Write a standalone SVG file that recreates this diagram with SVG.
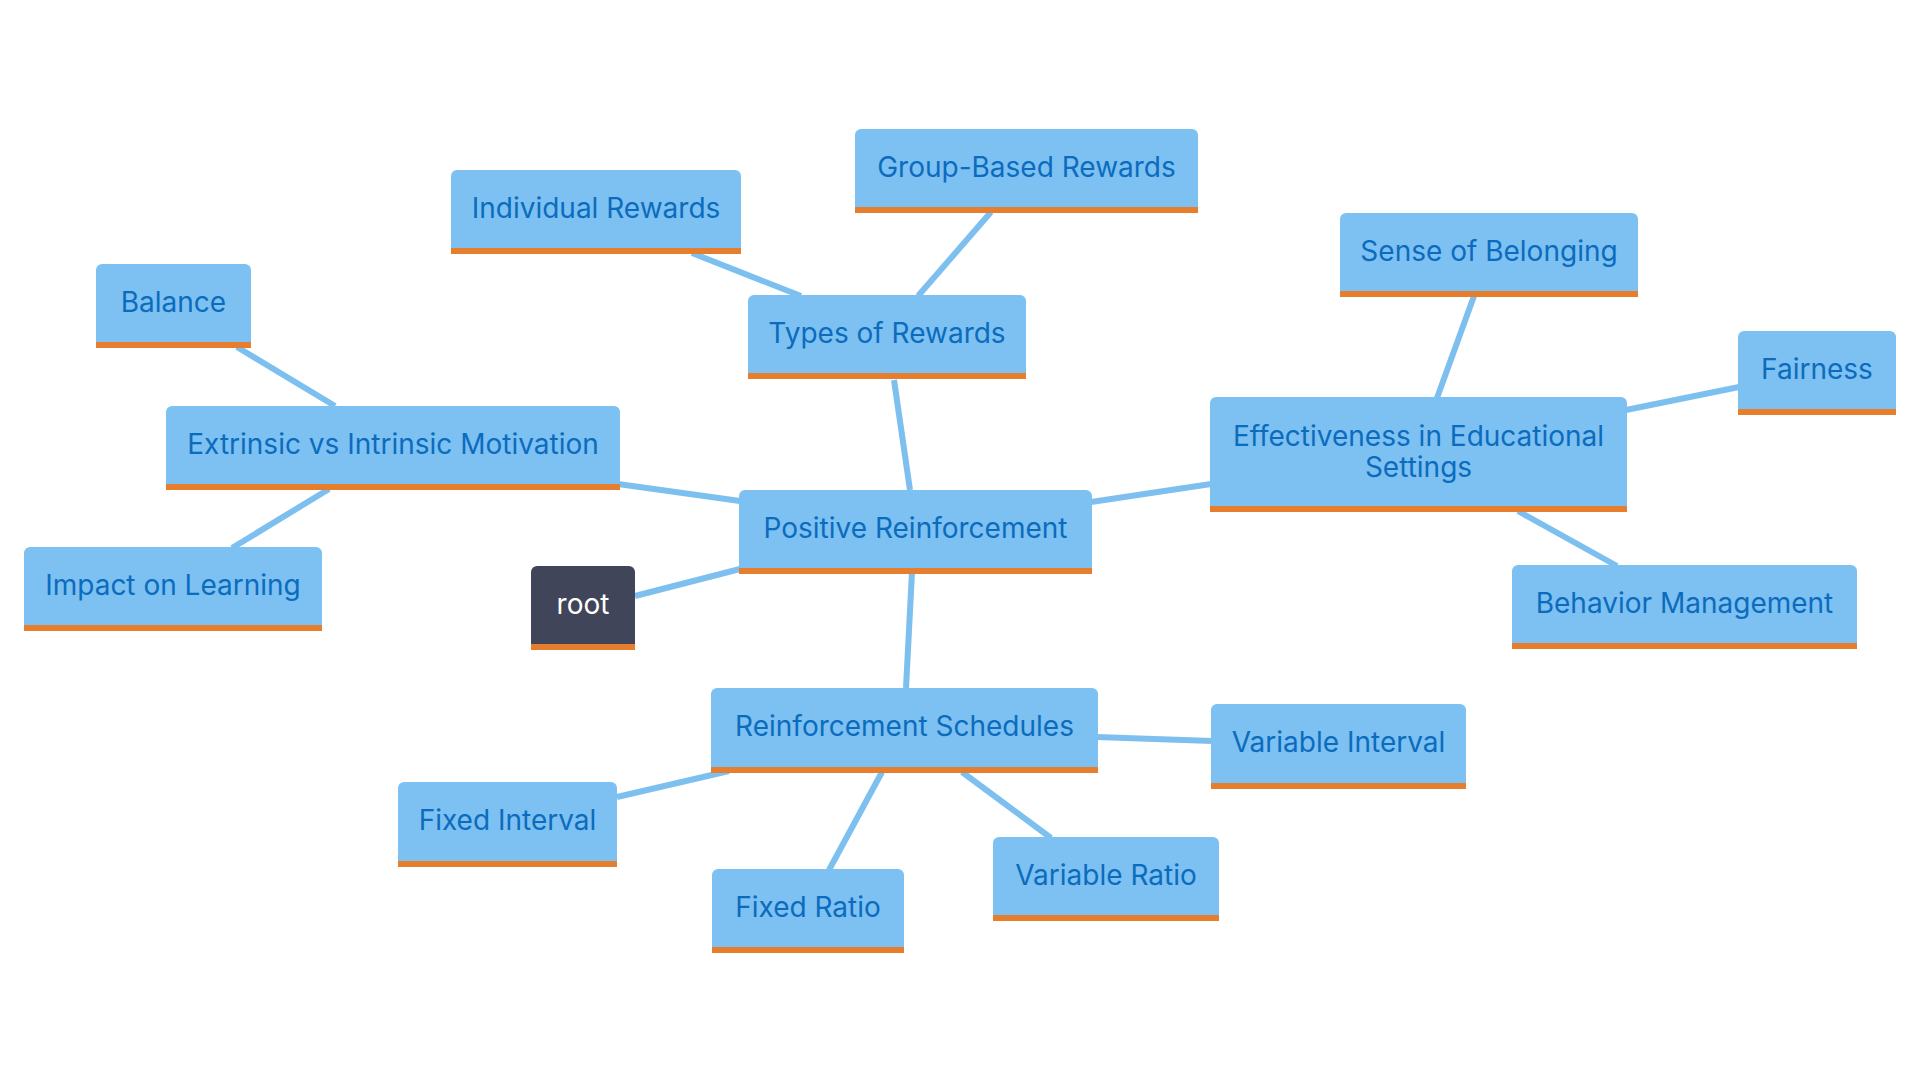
<svg xmlns="http://www.w3.org/2000/svg" width="1920" height="1080" viewBox="0 0 1920 1080">
<style>
.box{fill:#7dc0f2}
.rootbox{fill:#414559}
.bar{fill:#e67e2e}
.t{font-family:Inter,"Noto Sans","Liberation Sans",sans-serif;font-size:28px;fill:#0b6cbd;text-anchor:middle}
.rt{fill:#ffffff}
.edge{stroke:#7dc0f0;stroke-width:6;fill:none;stroke-linecap:butt}
</style>
<rect width="1920" height="1080" fill="#ffffff"/>
<g id="connectors">
<line class="edge" x1="635" y1="596" x2="740" y2="569"/>
<line class="edge" x1="618" y1="484" x2="740" y2="501"/>
<line class="edge" x1="910" y1="490" x2="894" y2="380"/>
<line class="edge" x1="1091" y1="502" x2="1211" y2="484"/>
<line class="edge" x1="912" y1="572" x2="906" y2="688"/>
<line class="edge" x1="801" y1="296" x2="692" y2="253"/>
<line class="edge" x1="918" y1="296" x2="991" y2="212"/>
<line class="edge" x1="335" y1="406" x2="237" y2="347"/>
<line class="edge" x1="329" y1="489" x2="232" y2="548"/>
<line class="edge" x1="1437" y1="398" x2="1474" y2="296"/>
<line class="edge" x1="1626" y1="410" x2="1739" y2="387"/>
<line class="edge" x1="1518" y1="511" x2="1617" y2="566"/>
<line class="edge" x1="1097" y1="737" x2="1212" y2="741"/>
<line class="edge" x1="729" y1="771" x2="617" y2="797"/>
<line class="edge" x1="882" y1="772" x2="829" y2="870"/>
<line class="edge" x1="962" y1="772" x2="1051" y2="838"/>
</g>
<g id="n-positive-reinforcement"><rect class="box" x="739" y="490" width="353" height="84" rx="6"/><rect class="bar" x="739" y="568" width="353" height="6"/><text class="t" x="915.5" y="538">Positive Reinforcement</text></g>
<g id="n-root"><rect class="rootbox" x="531" y="566" width="104" height="84" rx="6"/><rect class="bar" x="531" y="644" width="104" height="6"/><text class="t rt" x="583" y="614">root</text></g>
<g id="n-types"><rect class="box" x="748" y="295" width="278" height="84" rx="6"/><rect class="bar" x="748" y="373" width="278" height="6"/><text class="t" x="887" y="343">Types of Rewards</text></g>
<g id="n-individual"><rect class="box" x="451" y="170" width="290" height="84" rx="6"/><rect class="bar" x="451" y="248" width="290" height="6"/><text class="t" x="596" y="218">Individual Rewards</text></g>
<g id="n-group"><rect class="box" x="855" y="129" width="343" height="84" rx="6"/><rect class="bar" x="855" y="207" width="343" height="6"/><text class="t" x="1026.5" y="177">Group-Based Rewards</text></g>
<g id="n-extrinsic"><rect class="box" x="166" y="406" width="454" height="84" rx="6"/><rect class="bar" x="166" y="484" width="454" height="6"/><text class="t" x="393" y="454">Extrinsic vs Intrinsic Motivation</text></g>
<g id="n-balance"><rect class="box" x="96" y="264" width="155" height="84" rx="6"/><rect class="bar" x="96" y="342" width="155" height="6"/><text class="t" x="173.5" y="312">Balance</text></g>
<g id="n-impact"><rect class="box" x="24" y="547" width="298" height="84" rx="6"/><rect class="bar" x="24" y="625" width="298" height="6"/><text class="t" x="173" y="595">Impact on Learning</text></g>
<g id="n-effectiveness"><rect class="box" x="1210" y="397" width="417" height="115" rx="6"/><rect class="bar" x="1210" y="506" width="417" height="6"/><text class="t" x="1418.5" y="446">Effectiveness in Educational</text><text class="t" x="1418.5" y="477">Settings</text></g>
<g id="n-sense"><rect class="box" x="1340" y="213" width="298" height="84" rx="6"/><rect class="bar" x="1340" y="291" width="298" height="6"/><text class="t" x="1489" y="261">Sense of Belonging</text></g>
<g id="n-fairness"><rect class="box" x="1738" y="331" width="158" height="84" rx="6"/><rect class="bar" x="1738" y="409" width="158" height="6"/><text class="t" x="1817" y="379">Fairness</text></g>
<g id="n-behavior"><rect class="box" x="1512" y="565" width="345" height="84" rx="6"/><rect class="bar" x="1512" y="643" width="345" height="6"/><text class="t" x="1684.5" y="613">Behavior Management</text></g>
<g id="n-schedules"><rect class="box" x="711" y="688" width="387" height="85" rx="6"/><rect class="bar" x="711" y="767" width="387" height="6"/><text class="t" x="904.5" y="736">Reinforcement Schedules</text></g>
<g id="n-variable-interval"><rect class="box" x="1211" y="704" width="255" height="85" rx="6"/><rect class="bar" x="1211" y="783" width="255" height="6"/><text class="t" x="1338.5" y="752">Variable Interval</text></g>
<g id="n-fixed-interval"><rect class="box" x="398" y="782" width="219" height="85" rx="6"/><rect class="bar" x="398" y="861" width="219" height="6"/><text class="t" x="507.5" y="830">Fixed Interval</text></g>
<g id="n-fixed-ratio"><rect class="box" x="712" y="869" width="192" height="84" rx="6"/><rect class="bar" x="712" y="947" width="192" height="6"/><text class="t" x="808" y="917">Fixed Ratio</text></g>
<g id="n-variable-ratio"><rect class="box" x="993" y="837" width="226" height="84" rx="6"/><rect class="bar" x="993" y="915" width="226" height="6"/><text class="t" x="1106" y="885">Variable Ratio</text></g>
</svg>
